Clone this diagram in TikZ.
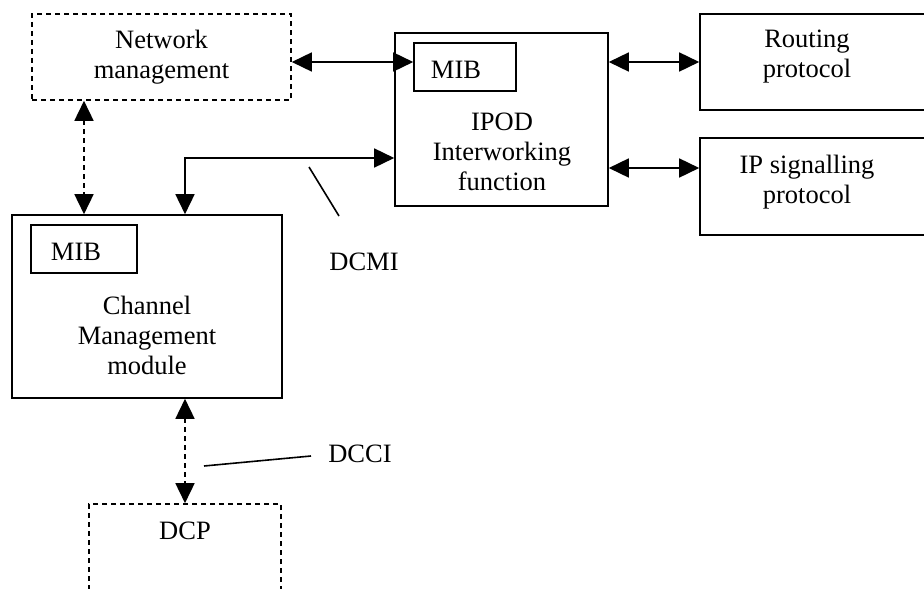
\documentclass[tikz,border=0pt]{standalone}
\usepackage{fontspec}
\setmainfont{Liberation Serif}
\usetikzlibrary{arrows.meta}
\begin{document}
\begin{tikzpicture}[x=1pt,y=-1pt,
  box/.style={draw, line width=1.6pt, inner sep=0pt, minimum width=#1},
  dbox/.style={box=#1, dash pattern=on 5pt off 4pt},
  lbl/.style={inner sep=0pt, align=center, font=\fontsize{26.5}{30}\selectfont},
  conn/.style={line width=1.6pt, {Triangle[length=20pt,width=19pt]}-{Triangle[length=20pt,width=19pt]}},
  dconn/.style={conn, dash pattern=on 5pt off 4pt},
  tick/.style={line width=1.6pt}]
\useasboundingbox (0,0) rectangle (924,589);
\clip (0,0) rectangle (924,589);

% boxes
\node[dbox=259pt, minimum height=86pt]  (nm)   at (161.5,57)  {};
\node[box=213pt,  minimum height=173pt] (ipod) at (501.5,119.5) {};
\node[box=102pt,  minimum height=48pt]  (mibI) at (465,67)    {};
\node[box=234pt,  minimum height=96pt]  (rp)   at (817,62)    {};
\node[box=234pt,  minimum height=97pt]  (ips)  at (817,186.5) {};
\node[box=270pt,  minimum height=183pt] (cm)   at (147,306.5) {};
\node[box=106pt,  minimum height=48pt]  (mibC) at (84,249)    {};
\node[dbox=192pt, minimum height=120pt] (dcp)  at (185,564)   {};

% labels
\node[lbl] (tnm)   at (161.5,57)  {Network\\management};
\node[lbl] (tmibI) at (456,70)    {MIB};
\node[lbl] (tipod) at (502,152)   {IPOD\\Interworking\\function};
\node[lbl] (trp)   at (807,57)    {Routing\\protocol};
\node[lbl] (tips)  at (807,182)   {IP signalling\\protocol};
\node[lbl] (tmibC) at (76,252)    {MIB};
\node[lbl] (tcm)   at (147,335)   {Channel\\Management\\module};
\node[lbl] (tdcp)  at (185,531)   {DCP};
\node[lbl] (tdcmi) at (364,262)   {DCMI};
\node[lbl] (tdcci) at (360,454)   {DCCI};

% connectors
\draw[conn] (nm.east |- rp.west) -- (mibI.west |- rp.west);
\draw[conn] (ipod.east |- rp.west) -- (rp.west);
\draw[conn] ([yshift=18.5pt]ips.west -| ipod.east) -- ([yshift=18.5pt]ips.west);
\draw[conn] ([yshift=-38.5pt]ipod.west) -| ([xshift=38pt]cm.north);
\draw[dconn] (nm.south -| mibC.north) -- (cm.north -| mibC.north);
\draw[dconn] ([xshift=38pt]cm.south) -- (dcp.north);

% interface markers
\coordinate (m1) at (309,167);
\coordinate (m2) at (339,216);
\coordinate (c1) at (204,466);
\coordinate (c2) at (311,456);
\draw[tick] (m1) -- (m2);
\draw[tick] (c1) -- (c2);
\end{tikzpicture}
\end{document}
